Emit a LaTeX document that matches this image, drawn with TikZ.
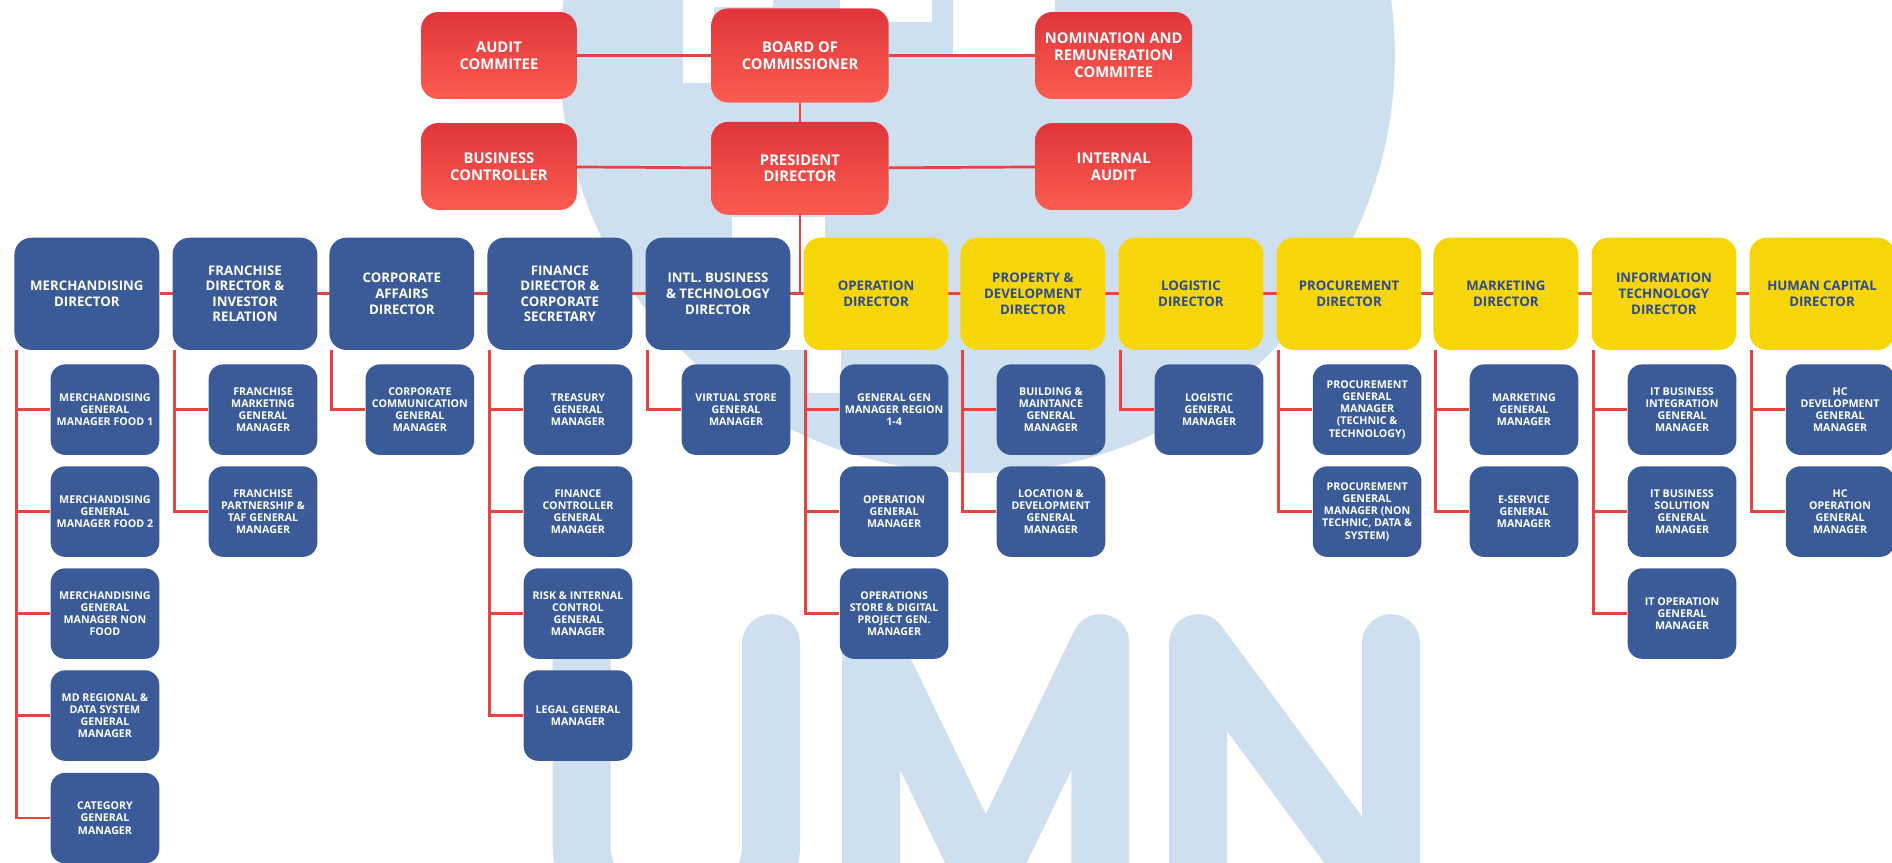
\documentclass[tikz,border=0pt]{standalone}
\usepackage{fontspec}
\setmainfont{Open Sans}
\usepackage{tikz}

\definecolor{boxblue}{HTML}{3A5A98}
\definecolor{boxyellow}{HTML}{F7D608}
\definecolor{textblue}{HTML}{2D4B8E}
\definecolor{redtop}{HTML}{DF353B}
\definecolor{redbottom}{HTML}{FB5C50}
\definecolor{wirered}{HTML}{E8443F}
\definecolor{logoblue}{HTML}{CEE0EF}

\pgfdeclarelayer{logo}
\pgfdeclarelayer{wires}
\pgfsetlayers{logo,wires,main}

\begin{document}
\begin{tikzpicture}[
    x=0.025cm, y=-0.025cm,
    redbox/.style={rectangle, rounded corners=0.35cm, top color=redtop, bottom color=redbottom, text=white, font=\bfseries\fontsize{8.7}{9.9}\selectfont, align=center, minimum width=3.225cm, minimum height=1.8cm, inner sep=2pt},
    dirbox/.style={rectangle, rounded corners=0.35cm, fill=boxblue, text=white, font=\bfseries\fontsize{7.8}{9.2}\selectfont, align=center, minimum width=3cm, minimum height=2.325cm, inner sep=1pt},
    opsbox/.style={dirbox, fill=boxyellow, text=textblue},
    gmbox/.style={rectangle, rounded corners=0.3cm, fill=boxblue, text=white, font=\bfseries\fontsize{6.3}{7.2}\selectfont, align=center, minimum width=2.25cm, minimum height=1.875cm, inner sep=1pt},
    link/.style={draw=wirered, line width=1.6pt},
    letter/.style={draw=logoblue, line width=1.2cm, line cap=round, line join=round}
]
    \useasboundingbox (0,0) rectangle (1568,715);

    % Watermark
    \begin{pgfonlayer}{logo}
    \clip (0,0) rectangle (1568,715);
    \fill[logoblue] (810,46) circle[radius=346];
    \fill[white] (566,0) rectangle (592,69);
    \fill[white] (592,0) rectangle (641,6);
    \fill[white] (696,0) rectangle (772,18);
    \fill[white] (790,0) rectangle (874,46);
    \fill[white] (607,180) rectangle (684,290);
    \fill[white] (668,290) rectangle (697,326);
    \draw[letter] (482,533) -- (482,700) .. controls (482,790) and (639,790) .. (639,700) -- (639,533);
    \draw[letter] (722,800) -- (722,533) -- (817,730) -- (912,533) -- (912,800);
    \draw[letter] (993,800) -- (993,533) -- (1153,750);
    \draw[letter] (1153,800) -- (1153,533);
    \end{pgfonlayer}

    % Board and president
    \node[redbox, minimum width=3.675cm, minimum height=1.95cm] (board) at (663,46) {BOARD OF\\COMMISSIONER};
    \node[redbox] (audit) at (413.5,46) {AUDIT\\COMMITEE};
    \node[redbox, minimum width=3.25cm] (nomination) at (923,46) {NOMINATION AND\\REMUNERATION\\COMMITEE};
    \node[redbox] (bizctrl) at (413.5,138) {BUSINESS\\CONTROLLER};
    \node[redbox, minimum width=3.675cm, minimum height=1.925cm] (pres) at (663,139.5) {PRESIDENT\\DIRECTOR};
    \node[redbox, minimum width=3.25cm] (intaudit) at (923,138) {INTERNAL\\AUDIT};

    % Directors
    \node[dirbox] (merch) at (72,243.5) {MERCHANDISING\\DIRECTOR};
    \node[dirbox] (fran) at (203,243.5) {FRANCHISE\\DIRECTOR \&\\INVESTOR\\RELATION};
    \node[dirbox] (corpaff) at (333,243.5) {CORPORATE\\AFFAIRS\\DIRECTOR};
    \node[dirbox] (fin) at (464,243.5) {FINANCE\\DIRECTOR \&\\CORPORATE\\SECRETARY};
    \node[dirbox] (intl) at (595,243.5) {INTL. BUSINESS\\\& TECHNOLOGY\\DIRECTOR};
    \node[opsbox] (oper) at (726,243.5) {OPERATION\\DIRECTOR};
    \node[opsbox] (prop) at (856,243.5) {PROPERTY \&\\DEVELOPMENT\\DIRECTOR};
    \node[opsbox] (logi) at (987,243.5) {LOGISTIC\\DIRECTOR};
    \node[opsbox] (proc) at (1118,243.5) {PROCUREMENT\\DIRECTOR};
    \node[opsbox] (mktg) at (1248,243.5) {MARKETING\\DIRECTOR};
    \node[opsbox] (itdir) at (1379,243.5) {INFORMATION\\TECHNOLOGY\\DIRECTOR};
    \node[opsbox] (hcap) at (1510,243.5) {HUMAN CAPITAL\\DIRECTOR};

    % General managers
    \node[gmbox] (merch1) at (87,339.5) {MERCHANDISING\\GENERAL\\MANAGER FOOD 1};
    \node[gmbox] (merch2) at (87,424) {MERCHANDISING\\GENERAL\\MANAGER FOOD 2};
    \node[gmbox] (merch3) at (87,508.5) {MERCHANDISING\\GENERAL\\MANAGER NON\\FOOD};
    \node[gmbox] (merch4) at (87,593) {MD REGIONAL \&\\DATA SYSTEM\\GENERAL\\MANAGER};
    \node[gmbox] (merch5) at (87,678) {CATEGORY\\GENERAL\\MANAGER};
    \node[gmbox] (fran1) at (218,339.5) {FRANCHISE\\MARKETING\\GENERAL\\MANAGER};
    \node[gmbox] (fran2) at (218,424) {FRANCHISE\\PARTNERSHIP \&\\TAF GENERAL\\MANAGER};
    \node[gmbox] (corpaff1) at (348,339.5) {CORPORATE\\COMMUNICATION\\GENERAL\\MANAGER};
    \node[gmbox] (fin1) at (479,339.5) {TREASURY\\GENERAL\\MANAGER};
    \node[gmbox] (fin2) at (479,424) {FINANCE\\CONTROLLER\\GENERAL\\MANAGER};
    \node[gmbox] (fin3) at (479,508.5) {RISK \& INTERNAL\\CONTROL\\GENERAL\\MANAGER};
    \node[gmbox] (fin4) at (479,593) {LEGAL GENERAL\\MANAGER};
    \node[gmbox] (intl1) at (610,339.5) {VIRTUAL STORE\\GENERAL\\MANAGER};
    \node[gmbox] (oper1) at (741,339.5) {GENERAL GEN\\MANAGER REGION\\1-4};
    \node[gmbox] (oper2) at (741,424) {OPERATION\\GENERAL\\MANAGER};
    \node[gmbox] (oper3) at (741,508.5) {OPERATIONS\\STORE \& DIGITAL\\PROJECT GEN.\\MANAGER};
    \node[gmbox] (prop1) at (871,339.5) {BUILDING \&\\MAINTANCE\\GENERAL\\MANAGER};
    \node[gmbox] (prop2) at (871,424) {LOCATION \&\\DEVELOPMENT\\GENERAL\\MANAGER};
    \node[gmbox] (logi1) at (1002,339.5) {LOGISTIC\\GENERAL\\MANAGER};
    \node[gmbox] (proc1) at (1133,339.5) {PROCUREMENT\\GENERAL\\MANAGER\\(TECHNIC \&\\TECHNOLOGY)};
    \node[gmbox] (proc2) at (1133,424) {PROCUREMENT\\GENERAL\\MANAGER (NON\\TECHNIC, DATA \&\\SYSTEM)};
    \node[gmbox] (mktg1) at (1263,339.5) {MARKETING\\GENERAL\\MANAGER};
    \node[gmbox] (mktg2) at (1263,424) {E-SERVICE\\GENERAL\\MANAGER};
    \node[gmbox] (it1) at (1394,339.5) {IT BUSINESS\\INTEGRATION\\GENERAL\\MANAGER};
    \node[gmbox] (it2) at (1394,424) {IT BUSINESS\\SOLUTION\\GENERAL\\MANAGER};
    \node[gmbox] (it3) at (1394,508.5) {IT OPERATION\\GENERAL\\MANAGER};
    \node[gmbox] (hcap1) at (1525,339.5) {HC\\DEVELOPMENT\\GENERAL\\MANAGER};
    \node[gmbox] (hcap2) at (1525,424) {HC\\OPERATION\\GENERAL\\MANAGER};

    % Connectors
    \begin{pgfonlayer}{wires}
    \draw[link] (audit) -- (board);
    \draw[link] (board) -- (nomination);
    \draw[link] (board) -- (pres);
    \draw[link] (bizctrl) -- (pres);
    \draw[link] (pres) -- (intaudit);
    \draw[link] (pres.south) -- (pres.south |- merch.center);
    \draw[link] (merch) -- (hcap);

    \draw[link] ([xshift=1.5pt]merch.south west) |- (merch1);
    \draw[link] ([xshift=1.5pt]merch.south west) |- (merch2);
    \draw[link] ([xshift=1.5pt]merch.south west) |- (merch3);
    \draw[link] ([xshift=1.5pt]merch.south west) |- (merch4);
    \draw[link] ([xshift=1.5pt]merch.south west) |- (merch5);
    \draw[link] ([xshift=1.5pt]fran.south west) |- (fran1);
    \draw[link] ([xshift=1.5pt]fran.south west) |- (fran2);
    \draw[link] ([xshift=1.5pt]corpaff.south west) |- (corpaff1);
    \draw[link] ([xshift=1.5pt]fin.south west) |- (fin1);
    \draw[link] ([xshift=1.5pt]fin.south west) |- (fin2);
    \draw[link] ([xshift=1.5pt]fin.south west) |- (fin3);
    \draw[link] ([xshift=1.5pt]fin.south west) |- (fin4);
    \draw[link] ([xshift=1.5pt]intl.south west) |- (intl1);
    \draw[link] ([xshift=1.5pt]oper.south west) |- (oper1);
    \draw[link] ([xshift=1.5pt]oper.south west) |- (oper2);
    \draw[link] ([xshift=1.5pt]oper.south west) |- (oper3);
    \draw[link] ([xshift=1.5pt]prop.south west) |- (prop1);
    \draw[link] ([xshift=1.5pt]prop.south west) |- (prop2);
    \draw[link] ([xshift=1.5pt]logi.south west) |- (logi1);
    \draw[link] ([xshift=1.5pt]proc.south west) |- (proc1);
    \draw[link] ([xshift=1.5pt]proc.south west) |- (proc2);
    \draw[link] ([xshift=1.5pt]mktg.south west) |- (mktg1);
    \draw[link] ([xshift=1.5pt]mktg.south west) |- (mktg2);
    \draw[link] ([xshift=1.5pt]itdir.south west) |- (it1);
    \draw[link] ([xshift=1.5pt]itdir.south west) |- (it2);
    \draw[link] ([xshift=1.5pt]itdir.south west) |- (it3);
    \draw[link] ([xshift=1.5pt]hcap.south west) |- (hcap1);
    \draw[link] ([xshift=1.5pt]hcap.south west) |- (hcap2);
    \end{pgfonlayer}
\end{tikzpicture}
\end{document}
